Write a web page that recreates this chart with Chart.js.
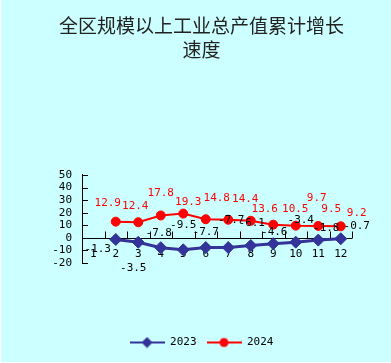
<!DOCTYPE html>
<html><head><meta charset="utf-8">
<script src="https://cdn.jsdelivr.net/npm/chart.js@4.4.1/dist/chart.umd.min.js"></script>
<style>html,body{margin:0;padding:0;background:#ccffff;}canvas{display:block}</style>
</head><body>
<canvas id="c" width="391" height="363"></canvas>
<script>
const months = ['1','2','3','4','5','6','7','8','9','10','11','12'];
const series2023 = [null,-1.3,-3.5,-7.8,-9.5,-7.7,-7.7,-6.1,-4.6,-3.4,-1.8,-0.7];
const series2024 = [null,12.9,12.4,17.8,19.3,14.8,14.4,13.6,10.5,9.7,9.5,9.2];
const yMin = -20, yMax = 50, yStep = 10;
const titleLines = ['全区规模以上工业总产值累计增长','速度'];
const seriesNames = ['2023','2024'];
// data label nudges in pixels relative to each point
const labelNudge2023 = [null,[-18,10],[-5,26],[-2,-15],[0,-25],[0,-15],[3,-27],[1,-22],[1,-11],[5,-22],[8,-12],[16,-13]];
const labelNudge2024 = [null,[-8,-18],[-3,-16],[0,-22],[5,-11],[11,-21],[17,-21],[14,-12],[22,-16],[21,-28],[13,-17],[16,-13]];

const BLUE = '#333399', RED = '#ff0000';
const MONO = '"DejaVu Sans Mono", monospace';
const FS = 11;

function makeIcon(color, lw, shape){
  const cv = document.createElement('canvas');
  cv.width = 35; cv.height = 12;
  const c = cv.getContext('2d');
  c.strokeStyle = color; c.lineWidth = lw;
  c.beginPath(); c.moveTo(0,6); c.lineTo(35,6); c.stroke();
  c.fillStyle = color;
  c.beginPath();
  if (shape === 'diamond') { c.moveTo(17.5,0.5); c.lineTo(23,6); c.lineTo(17.5,11.5); c.lineTo(12,6); c.closePath(); }
  else { c.arc(17.5,6,4.5,0,Math.PI*2); }
  c.fill();
  return cv;
}

const bgPlugin = {
  id:'bg',
  beforeDraw(chart){
    const {ctx,width,height} = chart;
    ctx.save();
    ctx.fillStyle = '#ccffff'; ctx.fillRect(0,0,width,height);
    ctx.fillStyle = '#ffffff'; ctx.fillRect(0,0,1,height); ctx.fillRect(0,height-1,width,1);
    ctx.restore();
  }
};

const axisPlugin = {
  id:'axisCross',
  beforeDatasetsDraw(chart){
    const {ctx, chartArea:a, scales:{x,y}} = chart;
    const zy = Math.round(y.getPixelForValue(0)) + 0.5;
    ctx.save();
    ctx.strokeStyle = '#000'; ctx.lineWidth = 1;
    ctx.beginPath(); ctx.moveTo(a.left, zy); ctx.lineTo(a.right, zy); ctx.stroke();
    const n = months.length;
    for (let i = 0; i <= n; i++){
      const xx = Math.round(a.left + i*(a.right-a.left)/n) + 0.5;
      ctx.beginPath(); ctx.moveTo(xx, zy); ctx.lineTo(xx, zy-7); ctx.stroke();
    }
    y.ticks.forEach(t => {
      const yy = Math.round(y.getPixelForValue(t.value)) + 0.5;
      ctx.beginPath(); ctx.moveTo(a.left, yy); ctx.lineTo(a.left+6, yy); ctx.stroke();
    });
    ctx.fillStyle = '#000'; ctx.font = FS + 'px ' + MONO;
    ctx.textAlign = 'center'; ctx.textBaseline = 'middle';
    months.forEach((m,i) => { ctx.fillText(m, x.getPixelForValue(i), zy + 16); });
    ctx.restore();
  },
  afterDatasetsDraw(chart){
    const {ctx} = chart;
    ctx.save();
    ctx.font = FS + 'px ' + MONO; ctx.textAlign = 'center'; ctx.textBaseline = 'middle';
    const sets = [[0, series2023, labelNudge2023, '#000'],[1, series2024, labelNudge2024, RED]];
    sets.forEach(([di, vals, nudge, col]) => {
      const meta = chart.getDatasetMeta(di);
      ctx.fillStyle = col;
      meta.data.forEach((pt, i) => {
        if (vals[i] === null) return;
        const d = nudge[i] || [0,-12];
        ctx.fillText(vals[i].toFixed(1), pt.x + d[0], pt.y + d[1]);
      });
    });
    ctx.restore();
  }
};

new Chart(document.getElementById('c'), {
  type:'line',
  data:{
    labels: months,
    datasets:[
      {label:seriesNames[0], data:series2023, borderColor:BLUE, backgroundColor:BLUE, borderWidth:3,
       pointStyle:'rectRot', pointRadius:6, pointBorderWidth:1, pointBackgroundColor:BLUE, pointBorderColor:BLUE},
      {label:seriesNames[1], data:series2024, borderColor:RED, backgroundColor:RED, borderWidth:2,
       pointStyle:'circle', pointRadius:4.5, pointBorderWidth:1, pointBackgroundColor:RED, pointBorderColor:RED}
    ]
  },
  options:{
    responsive:false, animation:false,
    layout:{padding:{left:12,right:0,top:0,bottom:5}},
    scales:{
      x:{type:'category', offset:true, grid:{display:false}, border:{display:false}, ticks:{display:false},
         afterFit(s){ s.height = 64; }},
      y:{type:'linear', position:'left', min:yMin, max:yMax,
         ticks:{stepSize:yStep, autoSkip:false, color:'#000', padding:10, font:{family:'DejaVu Sans Mono', size:FS, lineHeight:1}},
         grid:{display:false, drawTicks:false}, border:{display:true, color:'#000', width:1},
         afterFit(s){ s.width = 70; }},
      y2:{type:'linear', position:'right', display:true, grid:{display:false}, border:{display:false}, ticks:{display:false},
         afterFit(s){ s.width = 39; }}
    },
    plugins:{
      tooltip:{enabled:false},
      title:{display:true, text:titleLines, color:'#222', padding:{top:14,bottom:113},
             font:{family:'"Noto Sans CJK SC"', size:19, weight:'normal', lineHeight:1.263}},
      legend:{position:'bottom', labels:{usePointStyle:true, pointStyleWidth:35, padding:10, color:'#000',
        font:{family:'DejaVu Sans Mono', size:FS},
        generateLabels(chart){
          return chart.data.datasets.map((ds,i)=>({
            text: ds.label, fillStyle: ds.backgroundColor, strokeStyle: ds.borderColor, lineWidth:0,
            pointStyle: makeIcon(ds.borderColor, 2, i===0?'diamond':'circle'),
            hidden: !chart.isDatasetVisible(i), datasetIndex:i, fontColor:'#000'
          }));
        }}}
    }
  },
  plugins:[bgPlugin, axisPlugin]
});
</script>
</body></html>
